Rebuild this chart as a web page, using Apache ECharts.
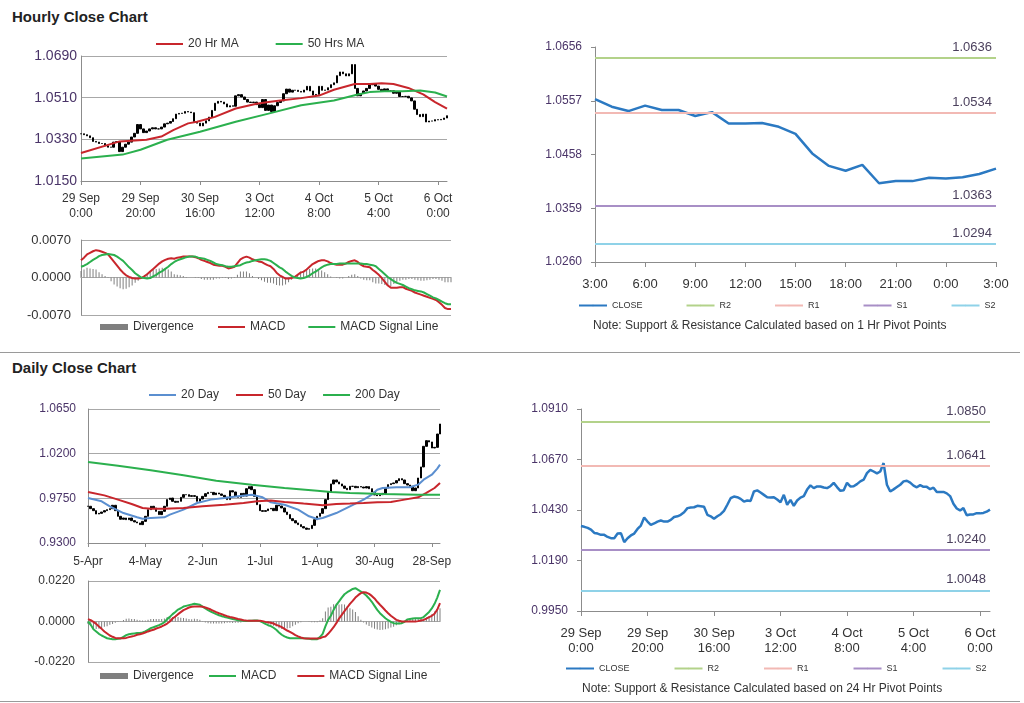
<!DOCTYPE html>
<html><head><meta charset="utf-8">
<script src="https://cdn.jsdelivr.net/npm/echarts@6/dist/echarts.min.js"></script>
<style>
html,body{margin:0;padding:0;background:#fff;}
#page{position:relative;width:1024px;height:703px;overflow:hidden;font-family:"Liberation Sans",Arial,sans-serif;}
.ch{position:absolute;left:0;top:0;width:1024px;height:703px;}
.title{position:absolute;left:12px;font-weight:bold;font-size:15px;line-height:17px;color:#222;}
.sep{position:absolute;left:0;width:1020px;height:1px;background:#9a9a9a;}
</style></head>
<body><div id="page">
<div class="title" style="top:8px">Hourly Close Chart</div>
<div class="sep" style="top:352px"></div>
<div class="title" style="top:359px">Daily Close Chart</div>
<div class="sep" style="top:701px"></div>
<div id="c1" class="ch"></div>
<div id="c2" class="ch"></div>
<div id="c3" class="ch"></div>
<div id="c4" class="ch"></div>
<div id="c5" class="ch"></div>
<div id="c6" class="ch"></div>
</div>
<script>
// ---------------- DATA ----------------
const hourlyTicks = ['29 Sep\n0:00','29 Sep\n20:00','30 Sep\n16:00','3 Oct\n12:00','4 Oct\n8:00','5 Oct\n4:00','6 Oct\n0:00'];
const pivotHourTicks = ['3:00','6:00','9:00','12:00','15:00','18:00','21:00','0:00','3:00'];
const dailyTicks = ['5-Apr','4-May','2-Jun','1-Jul','1-Aug','30-Aug','28-Sep'];

const hourlyClose = [1.0354,1.0350,1.0345,1.0337,1.0321,1.0318,1.0312,1.0312,1.0302,1.0296,
 1.0296,1.0318,1.0320,1.0277,1.0296,1.0309,1.0318,1.0340,1.0356,1.0394,
 1.0375,1.0359,1.0366,1.0375,1.0380,1.0375,1.0375,1.0383,1.0397,1.0400,
 1.0407,1.0419,1.0439,1.0442,1.0443,1.0450,1.0448,1.0445,1.0407,1.0400,
 1.0388,1.0400,1.0410,1.0426,1.0455,1.0486,1.0494,1.0491,1.0483,1.0470,
 1.0475,1.0473,1.0518,1.0523,1.0513,1.0502,1.0491,1.0489,1.0491,1.0480,
 1.0467,1.0502,1.0455,1.0478,1.0450,1.0475,1.0489,1.0496,1.0527,1.0547,
 1.0534,1.0542,1.0542,1.0537,1.0534,1.0543,1.0559,1.0539,1.0521,1.0524,
 1.0559,1.0542,1.0543,1.0553,1.0566,1.0574,1.0605,1.0621,1.0613,1.0604,
 1.0613,1.0653,1.0550,1.0518,1.0528,1.0539,1.0550,1.0566,1.0569,
 1.0560,1.0546,1.0538,1.0548,1.0540,1.0540,1.0529,1.0536,1.0515,1.0515,
 1.0516,1.0509,1.0496,1.0460,1.0437,1.0428,1.0439,1.0405,1.0409,1.0409,
 1.0415,1.0414,1.0416,1.0422,1.0432];

const ma20Hr = [[0,1.0271],[13,1.0321],[22,1.0328],[27,1.0342],[31,1.0370],[36,1.0399],[39,1.0406],[45,1.0427],[52,1.0463],[59,1.0484],[63,1.0491],[67,1.0498],[74,1.0508],[80,1.0519],[85,1.0544],[92,1.0569],[97,1.0569],[101,1.0572],[105,1.0569],[110,1.0552],[115,1.0524],[119,1.0491],[123,1.0463]];
const ma50Hr = [[0,1.0247],[14,1.0264],[20,1.0285],[29,1.0328],[40,1.0363],[52,1.0406],[63,1.0441],[74,1.0477],[85,1.0498],[93,1.0524],[97,1.0534],[102,1.0538],[108,1.0538],[114,1.0541],[119,1.0532],[123,1.0515]];

const hourlyMacd = [0.0032,0.0037,0.0043,0.0046,0.0049,0.0051,0.0050,0.0048,0.0046,0.0043,
 0.0036,0.0029,0.0022,0.0015,0.0009,0.0004,0.0001,-0.0001,-0.0002,-0.0002,
 -0.0001,0.0002,0.0006,0.0011,0.0016,0.0021,0.0026,0.0030,0.0033,0.0035,
 0.0036,0.0035,0.0037,0.0038,0.0039,0.0039,0.0039,0.0039,0.0038,0.0036,
 0.0033,0.0031,0.0029,0.0027,0.0024,0.0023,0.0022,0.0022,0.0020,0.0017,
 0.0018,0.0020,0.0027,0.0034,0.0037,0.0039,0.0037,0.0034,0.0032,0.0030,
 0.0029,0.0026,0.0023,0.0021,0.0016,0.0009,0.0004,0.0001,-0.0002,-0.0002,
 -0.0001,0.0001,0.0005,0.0009,0.0011,0.0015,0.0020,0.0025,0.0028,0.0031,
 0.0032,0.0032,0.0030,0.0027,0.0025,0.0024,0.0024,0.0024,0.0026,0.0029,
 0.0031,0.0032,0.0029,0.0024,0.0021,0.0020,0.0019,0.0014,0.0010,0.0005,
 -0.0001,-0.0008,-0.0015,-0.0019,-0.0019,-0.0019,-0.0018,-0.0018,-0.0021,-0.0023,
 -0.0025,-0.0028,-0.0030,-0.0032,-0.0034,-0.0036,-0.0038,-0.0040,-0.0042,-0.0046,
 -0.0051,-0.0057,-0.0059,-0.0059];
const hourlySignal = [0.0020,0.0022,0.0025,0.0029,0.0033,0.0036,0.0040,0.0042,0.0043,0.0044,
 0.0043,0.0042,0.0039,0.0035,0.0031,0.0025,0.0019,0.0014,0.0008,0.0004,
 0.0000,-0.0001,-0.0002,-0.0001,0.0002,0.0005,0.0009,0.0012,0.0016,0.0020,
 0.0025,0.0029,0.0032,0.0034,0.0036,0.0038,0.0039,0.0039,0.0039,0.0037,
 0.0036,0.0035,0.0033,0.0031,0.0028,0.0025,0.0024,0.0023,0.0021,0.0020,
 0.0020,0.0021,0.0022,0.0023,0.0026,0.0028,0.0029,0.0031,0.0032,0.0033,
 0.0034,0.0034,0.0033,0.0031,0.0027,0.0023,0.0019,0.0016,0.0011,0.0007,
 0.0003,0.0000,-0.0001,-0.0002,-0.0001,0.0001,0.0004,0.0008,0.0011,0.0015,
 0.0019,0.0022,0.0024,0.0025,0.0025,0.0025,0.0026,0.0026,0.0026,0.0026,
 0.0026,0.0026,0.0026,0.0026,0.0025,0.0025,0.0024,0.0023,0.0021,0.0016,
 0.0011,0.0006,0.0001,-0.0003,-0.0007,-0.0010,-0.0012,-0.0014,-0.0017,-0.0020,
 -0.0022,-0.0024,-0.0025,-0.0026,-0.0028,-0.0031,-0.0034,-0.0037,-0.0039,-0.0042,
 -0.0045,-0.0048,-0.0050,-0.0050];

const pivotNames = ['R2','R1','S1','S2'];
const pivot1Hr = [1.0636,1.0534,1.0363,1.0294];
const pivot24Hr = [1.0850,1.0641,1.0240,1.0048];

const dailyClose = [0.9670,0.9646,0.9626,0.9592,0.9599,0.9612,0.9626,0.9636,0.9646,0.9680,
 0.9626,0.9569,0.9539,0.9552,0.9535,0.9552,0.9525,0.9512,0.9502,0.9485,
 0.9518,0.9569,0.9636,0.9670,0.9653,0.9619,0.9586,0.9619,0.9670,0.9737,
 0.9753,0.9720,0.9710,0.9720,0.9760,0.9787,0.9787,0.9770,0.9777,0.9770,
 0.9720,0.9743,0.9770,0.9797,0.9810,0.9810,0.9787,0.9804,0.9794,0.9780,
 0.9763,0.9737,0.9827,0.9814,0.9770,0.9760,0.9800,0.9773,0.9847,0.9868,
 0.9837,0.9770,0.9686,0.9626,0.9619,0.9626,0.9643,0.9649,0.9626,0.9680,
 0.9673,0.9653,0.9612,0.9586,0.9545,0.9525,0.9502,0.9485,0.9465,0.9451,
 0.9438,0.9445,0.9478,0.9535,0.9569,0.9599,0.9646,0.9737,0.9814,0.9895,
 0.9935,0.9915,0.9895,0.9874,0.9851,0.9837,0.9871,0.9871,0.9857,0.9868,
 0.9864,0.9854,0.9868,0.9847,0.9814,0.9784,0.9777,0.9787,0.9800,0.9854,
 0.9888,0.9898,0.9905,0.9928,0.9948,0.9935,0.9898,0.9884,0.9871,0.9827,
 0.9854,0.9955,1.0066,1.0274,1.0331,1.0318,1.0257,1.0264,1.0398,1.0499];

const ma20Day = [[0,0.9753],[5,0.9720],[8,0.9670],[13,0.9602],[18,0.9559],[20,0.9545],[23,0.9552],[28,0.9559],[30,0.9586],[35,0.9636],[40,0.9703],[45,0.9737],[50,0.9753],[55,0.9770],[60,0.9787],[64,0.9760],[67,0.9710],[72,0.9686],[77,0.9636],[81,0.9569],[84,0.9542],[86,0.9552],[91,0.9602],[96,0.9670],[101,0.9737],[104,0.9787],[106,0.9837],[108,0.9854],[113,0.9861],[118,0.9861],[121,0.9888],[123,0.9938],[126,0.9988],[128,1.0049],[129,1.0089]];
const ma50Day = [[0,0.9814],[6,0.9780],[11,0.9737],[16,0.9693],[20,0.9653],[23,0.9646],[28,0.9646],[35,0.9653],[42,0.9670],[50,0.9686],[57,0.9703],[62,0.9720],[67,0.9727],[72,0.9714],[79,0.9697],[84,0.9686],[86,0.9680],[91,0.9693],[96,0.9697],[101,0.9703],[106,0.9710],[111,0.9714],[116,0.9737],[121,0.9760],[124,0.9804],[127,0.9854],[129,0.9905]];
const ma200Day = [[0,1.0116],[11,1.0079],[23,1.0032],[35,0.9982],[47,0.9928],[60,0.9888],[72,0.9854],[84,0.9827],[89,0.9814],[96,0.9804],[108,0.9794],[121,0.9787],[129,0.9787]];

const dailyMacd = [0.0000,-0.0018,-0.0042,-0.0054,-0.0067,-0.0076,-0.0083,-0.0091,-0.0094,-0.0096,
 -0.0096,-0.0094,-0.0092,-0.0083,-0.0074,-0.0069,-0.0067,-0.0065,-0.0063,-0.0062,
 -0.0060,-0.0054,-0.0045,-0.0036,-0.0031,-0.0025,-0.0020,-0.0013,-0.0004,0.0013,
 0.0025,0.0040,0.0052,0.0065,0.0072,0.0081,0.0085,0.0089,0.0092,0.0096,
 0.0094,0.0091,0.0081,0.0071,0.0062,0.0054,0.0047,0.0040,0.0034,0.0029,
 0.0025,0.0022,0.0018,0.0014,0.0011,0.0007,0.0005,0.0004,0.0002,0.0004,
 0.0004,0.0005,0.0005,0.0002,-0.0005,-0.0013,-0.0020,-0.0025,-0.0034,-0.0045,
 -0.0060,-0.0072,-0.0081,-0.0087,-0.0091,-0.0091,-0.0091,-0.0091,-0.0091,-0.0091,
 -0.0092,-0.0094,-0.0096,-0.0096,-0.0096,-0.0085,-0.0067,-0.0027,0.0009,0.0031,
 0.0063,0.0089,0.0109,0.0130,0.0148,0.0159,0.0168,0.0177,0.0181,0.0172,
 0.0163,0.0154,0.0141,0.0125,0.0107,0.0085,0.0063,0.0045,0.0031,0.0018,
 0.0007,-0.0002,-0.0009,-0.0011,-0.0011,-0.0009,-0.0002,0.0011,0.0014,0.0016,
 0.0018,0.0018,0.0018,0.0024,0.0038,0.0052,0.0071,0.0096,0.0130,0.0172];
const dailySignal = [0.0013,0.0007,-0.0002,-0.0013,-0.0027,-0.0040,-0.0054,-0.0065,-0.0076,-0.0083,
 -0.0089,-0.0091,-0.0091,-0.0091,-0.0089,-0.0085,-0.0081,-0.0078,-0.0072,-0.0069,
 -0.0065,-0.0060,-0.0054,-0.0049,-0.0045,-0.0038,-0.0033,-0.0027,-0.0020,-0.0011,
 0.0000,0.0016,0.0027,0.0040,0.0051,0.0062,0.0069,0.0076,0.0080,0.0081,
 0.0081,0.0081,0.0080,0.0076,0.0071,0.0065,0.0058,0.0051,0.0045,0.0040,
 0.0034,0.0029,0.0025,0.0022,0.0018,0.0014,0.0011,0.0007,0.0005,0.0004,
 0.0004,0.0004,0.0004,0.0004,0.0002,-0.0002,-0.0004,-0.0007,-0.0011,-0.0018,
 -0.0024,-0.0031,-0.0040,-0.0049,-0.0056,-0.0065,-0.0074,-0.0081,-0.0087,-0.0091,
 -0.0092,-0.0092,-0.0092,-0.0092,-0.0092,-0.0091,-0.0085,-0.0081,-0.0067,-0.0049,
 -0.0031,-0.0009,0.0016,0.0036,0.0056,0.0076,0.0096,0.0112,0.0130,0.0143,
 0.0154,0.0159,0.0157,0.0150,0.0139,0.0125,0.0107,0.0091,0.0076,0.0060,
 0.0045,0.0031,0.0020,0.0009,0.0004,0.0000,0.0000,0.0000,0.0000,0.0000,
 0.0000,0.0002,0.0005,0.0009,0.0016,0.0024,0.0031,0.0042,0.0065,0.0100];

// ---------------- HELPERS ----------------
const FONT = '"Liberation Sans", Arial, sans-serif';
const C = {red:'#c8262c', green:'#2bb04e', blue:'#5b8fd0', grid:'#a8a8a8', axis:'#8c8c8c',
  ylab:'#4a3468', xlab:'#333333', close:'#2b79c2', div:'#7f7f7f',
  piv:['#b3d28a','#f2b9b4','#a88fc6','#8fd2e8']};
const idx = n => Array.from({length:n}, (_, i) => String(i));
const candles = c => c.map((v,i) => { const o = i ? c[i-1] : v; return [o, v, Math.min(o,v), Math.max(o,v)]; });
const diff = (a,b) => a.map((v,i) => +(v - b[i]).toFixed(4));
const f4 = v => (+v).toFixed(4);
function mk(id, opt){
  const ch = echarts.init(document.getElementById(id), null, {renderer:'canvas'});
  opt.animation = false;
  opt.textStyle = {fontFamily: FONT};
  ch.setOption(opt);
}
function line(name, data, color, width){
  return {type:'line', name, data, symbol:'none', showSymbol:false, z:4,
    lineStyle:{color, width: width || 2}, itemStyle:{color}};
}
function priceY(min, max, interval, size, margin){
  return {type:'value', min, max, interval, scale:true,
    axisLine:{show:true, lineStyle:{color:C.axis}}, axisTick:{show:false},
    axisLabel:{formatter:f4, fontSize:size, color:C.ylab, margin},
    splitLine:{show:true, lineStyle:{color:C.grid, width:1}}};
}
function macdY(min, max, interval, size, margin){
  return {type:'value', min, max, interval,
    axisLine:{show:true, lineStyle:{color:C.axis}}, axisTick:{show:false},
    axisLabel:{formatter:f4, fontSize:size, color:C.xlab, margin},
    splitLine:{show:true, lineStyle:{color:C.grid, width:1}}};
}
// line legends: thin item height so only the line shows
function lineLegend(left, top, gap, data, size){
  return {left, top, padding:0, itemGap:gap, itemWidth:27, itemHeight:2,
    textStyle:{fontSize:size||12, color:'#333', fontFamily:FONT}, data};
}
function divLegend(left, top){
  return {left, top, padding:0, itemWidth:28, itemHeight:6, icon:'rect',
    textStyle:{fontSize:12, color:'#333', fontFamily:FONT}, data:['Divergence']};
}

// ---------------- 1. Hourly price ----------------
mk('c1', {
  legend: lineLegend(155, 38, 36, ['20 Hr MA','50 Hrs MA']),
  grid:{left:81, top:56, width:366, height:125},
  xAxis:{type:'category', data: idx(hourlyClose.length), boundaryGap:false,
    axisLine:{lineStyle:{color:C.axis}},
    axisTick:{interval:19, length:4, lineStyle:{color:C.axis}},
    axisLabel:{interval:19, formatter:(v,i)=>hourlyTicks[i/20], fontSize:12, lineHeight:15, color:C.xlab, margin:10}},
  yAxis: priceY(1.0150, 1.0690, 0.018, 14, 4),
  series:[
    {type:'candlestick', name:'Price', data:candles(hourlyClose), barWidth:2,
      itemStyle:{color:'#000', color0:'#000', borderColor:'#000', borderColor0:'#000', borderWidth:1}},
    line('20 Hr MA', ma20Hr, C.red),
    line('50 Hrs MA', ma50Hr, C.green)
  ]
});

// ---------------- 2. Hourly MACD ----------------
mk('c2', {
  legend: [divLegend(100, 321), lineLegend(217, 321, 22, ['MACD','MACD Signal Line'])],
  grid:{left:81, top:240, width:370, height:75},
  xAxis:{type:'category', data: idx(hourlyMacd.length), boundaryGap:false,
    axisLine:{onZero:true, lineStyle:{color:C.grid}}, axisTick:{show:false}, axisLabel:{show:false}},
  yAxis: macdY(-0.007, 0.007, 0.007, 13, 10),
  series:[
    {type:'bar', name:'Divergence', data: diff(hourlyMacd, hourlySignal), barWidth:1, itemStyle:{color:C.div}},
    line('MACD', hourlyMacd, C.red),
    line('MACD Signal Line', hourlySignal, C.green)
  ]
});

// ---------------- pivot chart builder ----------------
function pivotChart(id, grid, xData, xFmt, tickEvery, yMin, yMax, yInt, closeData, pivots, legendPos, note, labelDist, xMargin){
  const series = [line('CLOSE', closeData, C.close, 2.5)];
  pivotNames.forEach((n,k) => {
    series.push({type:'line', name:n, data:[], symbol:'none', lineStyle:{color:C.piv[k], width:2}, itemStyle:{color:C.piv[k]},
      markLine:{silent:true, symbol:'none', animation:false, precision:4,
        lineStyle:{color:C.piv[k], width:2, type:'solid'},
        label:{show:true, position:'insideEndTop', formatter:p=>f4(p.value), color:'#4a3f5c', fontSize:13, distance:labelDist},
        data:[{yAxis:pivots[k]}]}});
  });
  mk(id, {
    legend:{left:legendPos[0], top:legendPos[1], padding:0, itemGap:legendPos[2], itemWidth:28, itemHeight:2,
      textStyle:{fontSize:9, color:'#333', fontFamily:FONT}, data:['CLOSE'].concat(pivotNames)},
    graphic:[{type:'text', left:note[0], top:note[1], style:{text:note[2], fontSize:12, fill:'#333', font:'12px ' + FONT}}],
    grid,
    xAxis:{type:'category', data:xData, boundaryGap:false,
      axisLine:{lineStyle:{color:C.axis}},
      axisTick:{interval:tickEvery-1, length:5, lineStyle:{color:C.axis}},
      axisLabel:{interval:tickEvery-1, formatter:xFmt, fontSize:13, lineHeight:15, color:C.xlab, margin:xMargin}},
    yAxis:{type:'value', min:yMin, max:yMax, interval:yInt,
      axisLine:{show:true, lineStyle:{color:C.axis}}, axisTick:{show:true, length:4, lineStyle:{color:C.axis}},
      axisLabel:{formatter:f4, fontSize:12, color:C.ylab, margin:13}, splitLine:{show:false}},
    series
  });
}

// ---------------- 3. 1-Hr pivot ----------------
const last25 = hourlyClose.slice(hourlyClose.length - 25);
pivotChart('c3', {left:595, top:47, width:401, height:215}, idx(last25.length), (v,i)=>pivotHourTicks[i/3], 3,
  1.0260, 1.0656, 0.0099, last25, pivot1Hr, [578, 301, 43],
  [593, 320, 'Note: Support & Resistance Calculated based on 1 Hr Pivot Points'], 4, 15);

// ---------------- 4. Daily price ----------------
mk('c4', {
  legend: lineLegend(148, 389, 16, ['20 Day','50 Day','200 Day']),
  grid:{left:88, top:409, width:352, height:134},
  xAxis:{type:'category', data: idx(dailyClose.length), boundaryGap:false,
    axisLine:{lineStyle:{color:C.axis}},
    axisTick:{interval:20, length:4, lineStyle:{color:C.axis}},
    axisLabel:{interval:20, formatter:(v,i)=>dailyTicks[i/21], fontSize:12, color:C.xlab, margin:13}},
  yAxis: priceY(0.9300, 1.0650, 0.045, 12, 12),
  series:[
    {type:'candlestick', name:'Price', data:candles(dailyClose), barWidth:2,
      itemStyle:{color:'#000', color0:'#000', borderColor:'#000', borderColor0:'#000', borderWidth:1}},
    line('20 Day', ma20Day, C.blue),
    line('50 Day', ma50Day, C.red),
    line('200 Day', ma200Day, C.green)
  ]
});

// ---------------- 5. Daily MACD ----------------
mk('c5', {
  legend: [divLegend(100, 670), lineLegend(208, 670, 20, ['MACD','MACD Signal Line'])],
  grid:{left:88, top:581, width:352, height:81},
  xAxis:{type:'category', data: idx(dailyMacd.length), boundaryGap:false,
    axisLine:{onZero:true, lineStyle:{color:C.grid}}, axisTick:{show:false}, axisLabel:{show:false}},
  yAxis: macdY(-0.022, 0.022, 0.022, 12, 13),
  series:[
    {type:'bar', name:'Divergence', data: diff(dailyMacd, dailySignal), barWidth:1, itemStyle:{color:C.div}},
    line('MACD', dailyMacd, C.green),
    line('MACD Signal Line', dailySignal, C.red)
  ]
});

// ---------------- 6. 24-Hr pivot ----------------
pivotChart('c6', {left:581, top:409, width:409, height:202}, idx(hourlyClose.length), (v,i)=>hourlyTicks[i/20], 20,
  0.9950, 1.0910, 0.024, hourlyClose, pivot24Hr, [565, 664, 44],
  [582, 683, 'Note: Support & Resistance Calculated based on 24 Hr Pivot Points'], 4, 15);
</script>
</body></html>
